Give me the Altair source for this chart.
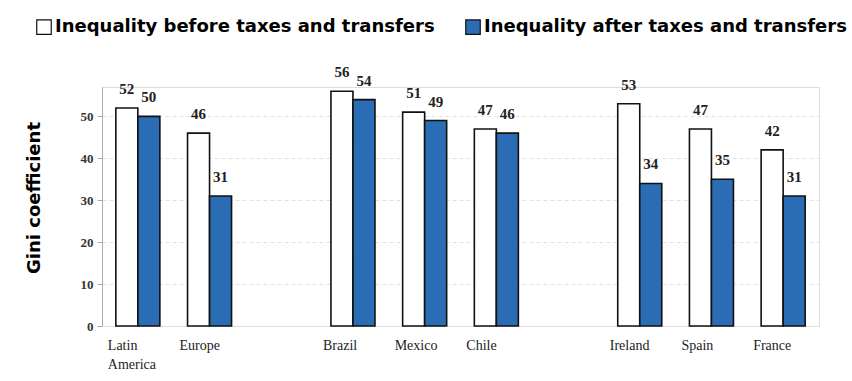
import altair as alt
import pandas as pd

categories = ["Latin America", "Europe", "_gap1", "Brazil", "Mexico", "Chile", "_gap2", "Ireland", "Spain", "France"]
regions = ["Latin America", "Europe", "Brazil", "Mexico", "Chile", "Ireland", "Spain", "France"]
before = [52, 46, 56, 51, 47, 53, 47, 42]
after = [50, 31, 54, 49, 46, 34, 35, 31]
series = ["Inequality before taxes and transfers", "Inequality after taxes and transfers"]
colors = ["#ffffff", "#2a6db5"]
y_ticks = [0, 10, 20, 30, 40, 50]

rows = []
for r, b, a in zip(regions, before, after):
    rows.append({"region": r, "series": series[0], "value": b})
    rows.append({"region": r, "series": series[1], "value": a})
df = pd.DataFrame(rows)

x_scale = alt.Scale(domain=categories, paddingInner=0.386, paddingOuter=0.193)
x_enc = alt.X(
    "region:N",
    scale=x_scale,
    axis=alt.Axis(
        title=None, domain=False, ticks=False, labelAngle=0,
        labelAlign="left", labelOffset=-30, labelPadding=12,
        labelFont="Liberation Serif", labelFontSize=14, labelColor="#222",
        labelLineHeight=19, labelBaseline="top",
        labelExpr="indexof(datum.label, '_') == 0 ? '' : split(datum.label, ' ')",
    ),
)
xoff = alt.XOffset("series:N", scale=alt.Scale(domain=series, paddingInner=0, paddingOuter=0))

bars = alt.Chart(df).mark_bar(stroke="#111", strokeWidth=1.6).encode(
    x=x_enc,
    xOffset=xoff,
    y=alt.Y(
        "value:Q",
        scale=alt.Scale(domain=[0, 57], nice=False),
        axis=alt.Axis(
            values=y_ticks, title="Gini coefficient",
            titleFont="DejaVu Sans", titleFontSize=18, titleFontWeight="bold",
            titleColor="#000", titleX=-68, titleY=110.5, titleAlign="center",
            titleBaseline="middle", titleAngle=-90,
            labelFont="Liberation Serif", labelFontSize=13, labelFontWeight="bold",
            labelColor="#333", labelPadding=4,
            domainColor="#aaa", tickColor="#aaa", tickSize=5,
            grid=True, gridColor="#e2e2e2", gridDash=[4, 3],
        ),
    ),
    color=alt.Color(
        "series:N",
        scale=alt.Scale(domain=series, range=colors),
        legend=alt.Legend(
            title=None, orient="none", legendX=-67, legendY=-69,
            direction="horizontal", symbolType="square", symbolSize=210,
            symbolStrokeColor="#111", symbolStrokeWidth=1.2,
            labelFont="DejaVu Sans", labelFontSize=18, labelFontWeight="bold",
            labelColor="#000", columnPadding=28, labelOffset=2, labelLimit=500,
        ),
    ),
)

labels = alt.Chart(df).mark_text(
    baseline="bottom", dy=-11, font="Liberation Serif", fontSize=15, fontWeight="bold", color="#222"
).encode(
    x=alt.X("region:N", scale=x_scale),
    xOffset=xoff,
    y=alt.Y("value:Q"),
    text="value:Q",
)

chart = (bars + labels).properties(
    width=717, height=239,
    autosize=alt.AutoSizeParams(type="none"),
    padding={"left": 102, "top": 87, "right": 33, "bottom": 55},
).configure_view(stroke=None).configure(background="white")

chart.save("out.html", embed_options={"renderer": "svg", "actions": False})
